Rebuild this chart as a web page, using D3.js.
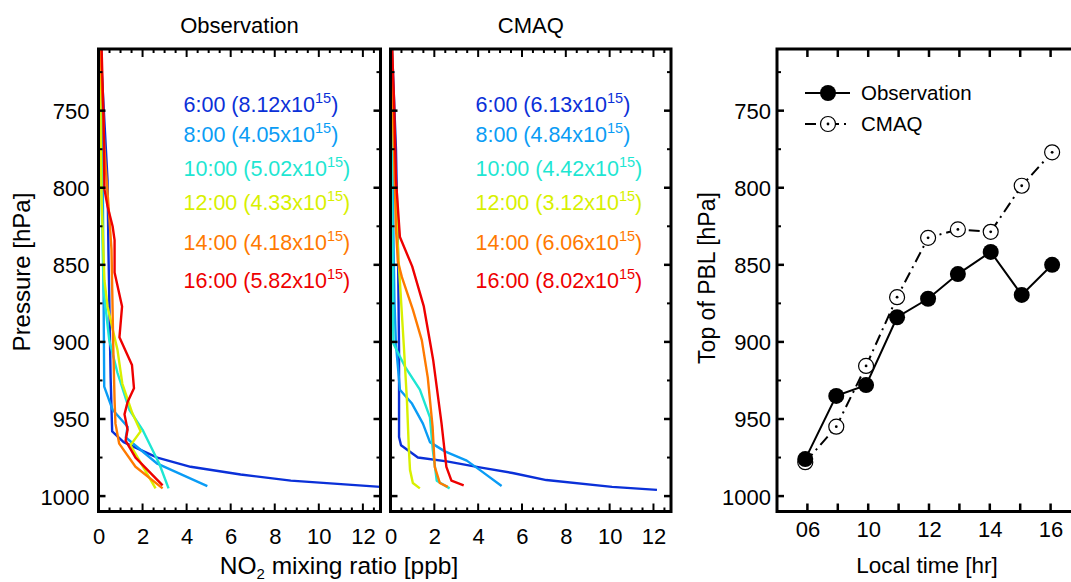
<!DOCTYPE html>
<html>
<head>
<meta charset="utf-8">
<script src="https://cdn.jsdelivr.net/npm/d3@7"></script>
<style>
  html, body { margin: 0; padding: 0; background: #fff; }
  svg { display: block; font-family: "Liberation Sans", Arial, Helvetica, sans-serif; }
</style>
</head>
<body>
<svg id="chart" width="1071" height="582"></svg>
<script>
// ---------------- DATA ----------------
const times = ["6:00", "8:00", "10:00", "12:00", "14:00", "16:00"];
const colors = ["#0a30d8", "#0a9cf5", "#1ee6d2", "#d8f000", "#ff7a00", "#ee0000"];
const obsColumns = ["8.12", "4.05", "5.02", "4.33", "4.18", "5.82"];
const cmaqColumns = ["6.13", "4.84", "4.42", "3.12", "6.06", "8.02"];

const pressureTicks = [750, 800, 850, 900, 950, 1000];
const no2Ticks = [0, 2, 4, 6, 8, 10, 12];

// Observation profiles: [NO2 ppb, pressure hPa]
const obs0600 = [[0.09,709],[0.41,795],[0.45,840],[0.55,923],[0.62,958],[1.14,965],[2.67,975],[4.18,981],[6.45,986],[8.73,990],[12.8,994]];
const obs0800 = [[0.14,709],[0.2,808],[0.26,929],[0.64,944],[1.32,955],[1.24,962],[2.67,979],[4.94,993.5]];
const obs1000 = [[0.09,709],[0.14,808],[0.23,866],[0.49,899],[0.86,920],[1.40,944],[2.0,957],[2.76,979],[3.18,995]];
const obs1200 = [[0.05,709],[0.14,808],[0.27,860],[0.41,877],[0.68,894],[0.86,905],[1.08,927],[1.53,946],[1.91,958],[1.45,967],[2.59,995]];
const obs1400 = [[0.09,709],[0.27,775],[0.5,821],[0.59,840],[0.67,903],[0.73,938],[0.77,953],[0.94,966],[1.68,981],[2.91,995]];
const obs1600 = [[0.14,709],[0.23,756],[0.27,801],[0.41,812],[0.64,825],[0.73,834],[0.73,855],[1.07,877],[0.95,897],[1.52,915],[1.61,930],[1.32,939],[1.18,947],[1.32,957],[1.23,964],[1.68,975],[2.91,993]];

// CMAQ profiles: [NO2 ppb, pressure hPa]
const cmaq0600 = [[0.07,709],[0.25,775],[0.34,840],[0.39,905],[0.39,961.7],[0.48,967],[1.25,975],[2.57,977.5],[4.07,981.4],[5.57,985],[7.11,989.6],[10.11,994],[12.16,996]];
const cmaq0800 = [[0.02,709],[0.11,808],[0.18,873],[0.25,902],[0.43,931],[0.98,940],[1.48,953],[1.80,965],[2.48,971],[3.48,977],[4.07,983],[5.07,993.5]];
const cmaq1000 = [[0.02,709],[0.07,808],[0.13,901],[0.66,916],[1.34,931],[1.80,949],[1.93,970],[2.11,990],[2.70,995]];
const cmaq1200 = [[0.02,709],[0.16,775],[0.34,840],[0.61,903],[0.75,938],[0.84,970],[0.89,983],[1.02,991.5],[1.34,995]];
const cmaq1400 = [[0.07,709],[0.16,775],[0.25,827],[0.34,848],[0.52,858],[1.02,879],[1.43,899],[1.70,923],[1.92,955],[2.02,981],[2.25,991.5],[2.61,994]];
const cmaq1600 = [[0.07,709],[0.16,743],[0.25,795],[0.43,832],[0.99,851],[1.52,877],[1.84,903],[1.95,912],[2.33,953],[2.55,981],[2.78,990],[3.34,993]];

// PBL top panel
const pblTickHours = [8, 9, 10, 11, 12, 13, 14, 15, 16];
const pblTickLabels = ["06", "", "10", "", "12", "", "14", "", "16"];
const pblHours = [7.93, 8.95, 9.93, 10.95, 11.97, 12.95, 14.03, 15.05, 16.05];
const pblObs = [976, 935, 928, 884, 872, 856, 841.6, 869.5, 850];
const pblCmaq = [978, 955, 915.6, 871, 832.5, 827, 828.6, 798.7, 777];

// ---------------- DRAW ----------------
const svg = d3.select("#chart");
const FONT = "Liberation Sans, Arial, Helvetica, sans-serif";
const TICKFS = 22;

const yP = d3.scaleLinear().domain([710, 1010]).range([49, 511.5]);
const minorP = d3.range(725, 1010, 50);

function frame(g, x0, x1, y0, y1) {
  g.append("rect").attr("x", x0).attr("y", y0).attr("width", x1 - x0).attr("height", y1 - y0)
    .attr("fill", "none").attr("stroke", "#000").attr("stroke-width", 3);
}

function profilePanel(x0, x1, title, profiles, columns, showYLabels, id) {
  const g = svg.append("g");
  const x = d3.scaleLinear().domain([0, 12.8]).range([x0, x1]);
  svg.append("clipPath").attr("id", id).append("rect")
    .attr("x", x0).attr("y", yP.range()[0]).attr("width", x1 - x0).attr("height", yP.range()[1] - yP.range()[0]);

  const line = d3.line().x(d => x(d[0])).y(d => yP(d[1]));
  const lg = g.append("g").attr("clip-path", `url(#${id})`);
  profiles.forEach((p, i) => {
    lg.append("path").datum(p).attr("d", line).attr("fill", "none")
      .attr("stroke", colors[i]).attr("stroke-width", 2.4).attr("stroke-linejoin", "round");
  });

  // x ticks (bottom + top), inward
  const minorX = d3.range(0, 12.81, 0.5);
  minorX.forEach(v => {
    const major = Math.abs(v % 2) < 1e-9;
    const len = major ? 8 : 4;
    g.append("line").attr("x1", x(v)).attr("x2", x(v)).attr("y1", yP.range()[1]).attr("y2", yP.range()[1] - len).attr("stroke", "#000").attr("stroke-width", 2);
    g.append("line").attr("x1", x(v)).attr("x2", x(v)).attr("y1", yP.range()[0]).attr("y2", yP.range()[0] + len).attr("stroke", "#000").attr("stroke-width", 2);
  });
  // y ticks left + right
  pressureTicks.forEach(v => {
    g.append("line").attr("x1", x0).attr("x2", x0 + 7).attr("y1", yP(v)).attr("y2", yP(v)).attr("stroke", "#000").attr("stroke-width", 2.5);
    g.append("line").attr("x1", x1).attr("x2", x1 - 7).attr("y1", yP(v)).attr("y2", yP(v)).attr("stroke", "#000").attr("stroke-width", 2.5);
  });
  minorP.forEach(v => {
    g.append("line").attr("x1", x0).attr("x2", x0 + 4).attr("y1", yP(v)).attr("y2", yP(v)).attr("stroke", "#000").attr("stroke-width", 2);
    g.append("line").attr("x1", x1).attr("x2", x1 - 4).attr("y1", yP(v)).attr("y2", yP(v)).attr("stroke", "#000").attr("stroke-width", 2);
  });
  frame(g, x0, x1, yP.range()[0], yP.range()[1]);

  // tick labels
  const xa = d3.axisBottom(x).tickValues(no2Ticks).tickFormat(d3.format("d")).tickSize(0).tickPadding(0);
  const xg = g.append("g").attr("transform", `translate(0,${yP.range()[1] + 32})`).call(xa);
  xg.select(".domain").remove();
  xg.selectAll("text").attr("font-size", TICKFS).attr("font-family", FONT).attr("fill", "#000").attr("dy", 0);

  if (showYLabels) {
    const ya = d3.axisLeft(yP).tickValues(pressureTicks).tickFormat(d3.format("d")).tickSize(0).tickPadding(0);
    const yg = g.append("g").attr("transform", `translate(${x0 - 9},0)`).call(ya);
    yg.select(".domain").remove();
    yg.selectAll("text").attr("font-size", TICKFS).attr("font-family", FONT).attr("fill", "#000").attr("dy", "0.36em");
  }

  g.append("text").attr("x", (x0 + x1) / 2).attr("y", 33).attr("text-anchor", "middle")
    .attr("font-size", 22).attr("font-family", FONT).text(title);

  // legend text
  const baselines = [112, 142, 176, 210, 250, 288];
  times.forEach((t, i) => {
    const tx = g.append("text").attr("x", x0 + 85).attr("y", baselines[i])
      .attr("font-size", 21.5).attr("font-family", FONT).attr("fill", colors[i]);
    tx.append("tspan").text(`${t} (${columns[i]}x10`);
    tx.append("tspan").attr("dy", -9).attr("font-size", 14.5).text("15");
    tx.append("tspan").attr("dy", 9).text(")");
  });
}

profilePanel(98.5, 380.5, "Observation", [obs0600, obs0800, obs1000, obs1200, obs1400, obs1600], obsColumns, true, "clipObs");
profilePanel(390.5, 671, "CMAQ", [cmaq0600, cmaq0800, cmaq1000, cmaq1200, cmaq1400, cmaq1600], cmaqColumns, false, "clipCmaq");

// Left y title
svg.append("text").attr("transform", "translate(30,272) rotate(-90)").attr("text-anchor", "middle")
  .attr("font-size", 24).attr("font-family", FONT).text("Pressure [hPa]");
// x title
const nt = svg.append("text").attr("x", 339).attr("y", 574).attr("text-anchor", "middle")
  .attr("font-size", 24.5).attr("font-family", FONT);
nt.append("tspan").text("NO");
nt.append("tspan").attr("dy", 5).attr("font-size", 15).text("2");
nt.append("tspan").attr("dy", -5).text(" mixing ratio [ppb]");

// ---------------- PBL panel ----------------
const px = d3.scaleLinear().domain([7, 17]).range([777, 1081]);
const pg = svg.append("g");
pblTickHours.forEach(h => {
  pg.append("line").attr("x1", px(h)).attr("x2", px(h)).attr("y1", yP.range()[1]).attr("y2", yP.range()[1] - 8).attr("stroke", "#000").attr("stroke-width", 2.5);
  pg.append("line").attr("x1", px(h)).attr("x2", px(h)).attr("y1", yP.range()[0]).attr("y2", yP.range()[0] + 8).attr("stroke", "#000").attr("stroke-width", 2.5);
});
pressureTicks.forEach(v => {
  pg.append("line").attr("x1", 777).attr("x2", 784).attr("y1", yP(v)).attr("y2", yP(v)).attr("stroke", "#000").attr("stroke-width", 2.5);
});
minorP.forEach(v => {
  pg.append("line").attr("x1", 777).attr("x2", 781).attr("y1", yP(v)).attr("y2", yP(v)).attr("stroke", "#000").attr("stroke-width", 2);
});
frame(pg, 777, 1081, yP.range()[0], yP.range()[1]);

const pxa = d3.axisBottom(px).tickValues(pblTickHours).tickFormat((d, i) => pblTickLabels[i]).tickSize(0).tickPadding(0);
const pxg = pg.append("g").attr("transform", `translate(0,${yP.range()[1] + 25})`).call(pxa);
pxg.select(".domain").remove();
pxg.selectAll("text").attr("font-size", TICKFS).attr("font-family", FONT).attr("fill", "#000").attr("dy", 0);

const pya = d3.axisLeft(yP).tickValues(pressureTicks).tickFormat(d3.format("d")).tickSize(0).tickPadding(0);
const pyg = pg.append("g").attr("transform", `translate(771,0)`).call(pya);
pyg.select(".domain").remove();
pyg.selectAll("text").attr("font-size", TICKFS).attr("font-family", FONT).attr("fill", "#000").attr("dy", "0.36em");

svg.append("text").attr("transform", "translate(715,278) rotate(-90)").attr("text-anchor", "middle")
  .attr("font-size", 23).attr("font-family", FONT).text("Top of PBL [hPa]");
svg.append("text").attr("x", 927).attr("y", 573).attr("text-anchor", "middle")
  .attr("font-size", 22.5).attr("font-family", FONT).text("Local time [hr]");

const pl = d3.line().x(d => px(d[0])).y(d => yP(d[1]));
const obsPts = pblHours.map((h, i) => [h, pblObs[i]]);
const cmaqPts = pblHours.map((h, i) => [h, pblCmaq[i]]);

pg.append("path").datum(cmaqPts).attr("d", pl).attr("fill", "none").attr("stroke", "#000")
  .attr("stroke-width", 2).attr("stroke-dasharray", "11,5,2,5");
pg.append("path").datum(obsPts).attr("d", pl).attr("fill", "none").attr("stroke", "#000").attr("stroke-width", 2);

function openMarker(g, cx, cy) {
  g.append("circle").attr("cx", cx).attr("cy", cy).attr("r", 7.5).attr("fill", "#fff").attr("stroke", "#000").attr("stroke-width", 1.2);
  g.append("circle").attr("cx", cx).attr("cy", cy).attr("r", 1.4).attr("fill", "#000");
}
cmaqPts.forEach(d => openMarker(pg, px(d[0]), yP(d[1])));
obsPts.forEach(d => {
  pg.append("circle").attr("cx", px(d[0])).attr("cy", yP(d[1])).attr("r", 8).attr("fill", "#000");
});

// PBL legend
pg.append("line").attr("x1", 805).attr("x2", 850).attr("y1", 93).attr("y2", 93).attr("stroke", "#000").attr("stroke-width", 2);
pg.append("circle").attr("cx", 828).attr("cy", 93).attr("r", 8).attr("fill", "#000");
pg.append("text").attr("x", 861).attr("y", 100).attr("font-size", 20.5).attr("font-family", FONT).text("Observation");
pg.append("line").attr("x1", 805).attr("x2", 850).attr("y1", 124).attr("y2", 124).attr("stroke", "#000").attr("stroke-width", 2).attr("stroke-dasharray", "11,5,2,5");
openMarker(pg, 828, 124);
pg.append("text").attr("x", 861).attr("y", 131).attr("font-size", 20.5).attr("font-family", FONT).text("CMAQ");
</script>
</body>
</html>
